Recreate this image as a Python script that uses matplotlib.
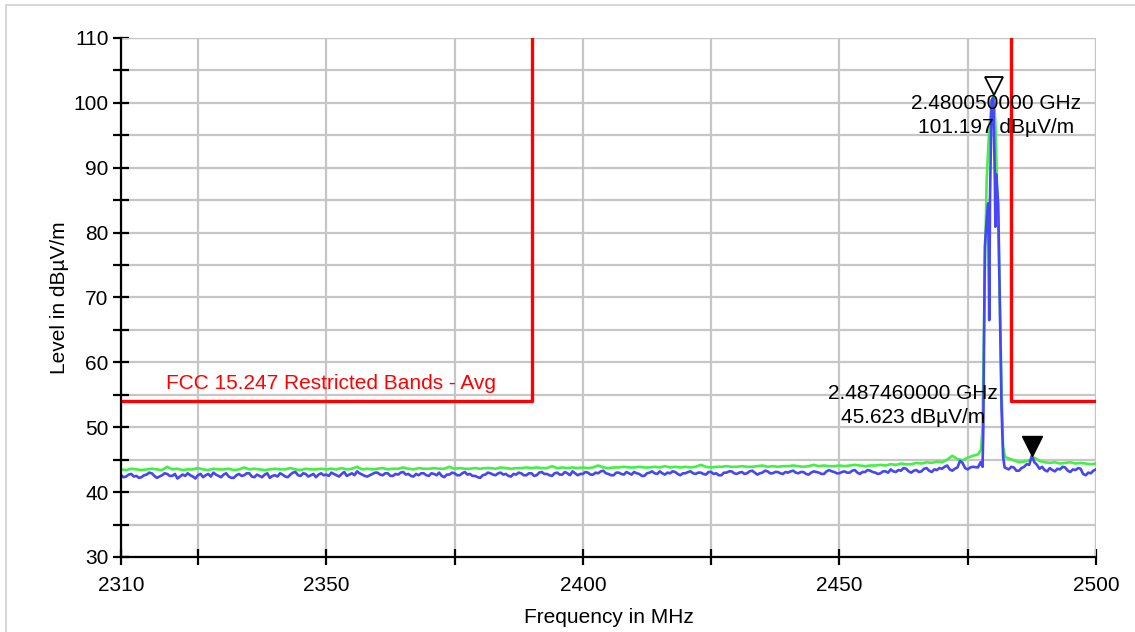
#!/usr/bin/env python3
# -*- coding: utf-8 -*-
"""
Radiated emission scan 2310-2500 MHz, restricted band limit (FCC 15.247 avg)
"""

import numpy as np
import matplotlib
matplotlib.use('Agg')
import matplotlib.pyplot as plt
from matplotlib.patches import Rectangle
from matplotlib.transforms import offset_copy

plt.rcParams['font.family'] = ['Liberation Sans', 'DejaVu Sans']

# --- data: green trace noise floor, 1 MHz steps 2310..2476 ---
freq_green_low = np.arange(2310, 2477)
green_low = [
    43.5, 43.4, 43.6, 43.5, 43.4, 43.5, 43.6, 43.5, 43.4, 43.9,
    43.5, 43.6, 43.4, 43.5, 43.5, 43.7, 43.5, 43.4, 43.6, 43.5,
    43.5, 43.6, 43.4, 43.5, 43.8, 43.5, 43.6, 43.5, 43.4, 43.5,
    43.6, 43.5, 43.5, 43.7, 43.5, 43.4, 43.6, 43.5, 43.5, 43.6,
    43.5, 43.6, 43.5, 43.7, 43.5, 43.6, 43.9, 43.5, 43.6, 43.5,
    43.6, 43.7, 43.5, 43.6, 43.6, 43.8, 43.6, 43.5, 43.7, 43.6,
    43.6, 43.7, 43.6, 43.6, 43.9, 43.6, 43.7, 43.6, 43.6, 43.7,
    43.6, 43.7, 43.7, 43.6, 43.8, 43.7, 43.6, 43.7, 43.7, 43.8,
    43.7, 43.8, 43.7, 43.7, 44.0, 43.7, 43.8, 43.7, 43.8, 43.7,
    43.8, 43.7, 43.8, 44.1, 43.8, 43.7, 43.8, 43.8, 43.9, 43.8,
    43.8, 43.9, 43.8, 43.8, 43.9, 43.8, 44.0, 43.8, 43.9, 43.8,
    43.9, 43.8, 43.9, 44.2, 43.9, 43.8, 43.9, 43.9, 44.0, 43.9,
    43.9, 44.0, 43.9, 43.9, 44.0, 44.1, 43.9, 44.0, 43.9, 44.0,
    44.0, 44.1, 44.0, 43.9, 44.0, 44.2, 44.0, 44.1, 44.0, 44.0,
    44.1, 44.0, 44.1, 44.2, 44.1, 44.0, 44.1, 44.1, 44.2, 44.1,
    44.3, 44.2, 44.4, 44.3, 44.3, 44.5, 44.4, 44.6, 44.5, 44.7,
    44.6, 45.0, 45.6, 45.1, 44.9, 45.3, 45.6,
]

# --- data: blue trace noise floor, 0.5 MHz steps 2310..2476 ---
freq_blue_low = np.arange(2310, 2476.01, 0.5)
blue_low = [
    42.6, 42.3, 42.4, 42.7, 42.8, 42.4, 42.5, 42.2, 42.3, 42.6, 42.7, 43.0, 42.9, 42.5, 42.2, 42.4, 42.6, 42.9, 42.8, 42.5,
    42.5, 42.8, 42.1, 42.4, 42.7, 42.5, 42.9, 42.6, 42.4, 42.1, 42.6, 42.8, 42.3, 42.6, 42.8, 42.4, 43.0, 42.7, 42.5, 42.3,
    42.7, 42.9, 42.4, 42.2, 42.2, 42.6, 42.8, 42.5, 42.6, 42.9, 42.9, 42.4, 42.3, 42.7, 42.5, 42.3, 42.7, 42.9, 42.2, 42.5,
    42.6, 42.4, 42.9, 42.7, 42.4, 42.3, 42.7, 43.0, 43.1, 42.6, 42.5, 42.9, 42.8, 42.4, 42.6, 42.8, 42.3, 42.7, 42.9, 42.6,
    42.7, 42.5, 43.0, 42.8, 42.6, 42.4, 42.8, 43.1, 42.5, 42.7, 42.9, 42.6, 43.2, 42.9, 42.7, 42.5, 42.4, 42.6, 42.8, 43.0,
    43.0, 42.7, 42.6, 42.9, 42.9, 42.5, 42.5, 42.8, 42.7, 43.0, 43.1, 42.7, 42.8, 42.5, 42.4, 42.8, 42.6, 42.9, 42.9, 42.6,
    42.5, 42.9, 42.8, 42.6, 43.0, 42.5, 42.3, 42.7, 42.7, 43.0, 42.9, 42.6, 42.6, 42.9, 43.1, 42.7, 42.8, 42.5, 42.5, 42.3,
    42.2, 42.6, 42.7, 43.0, 42.9, 42.7, 42.6, 42.9, 43.0, 42.7, 42.8, 42.5, 42.4, 42.8, 42.7, 43.0, 42.9, 42.6, 42.6, 42.9,
    42.9, 42.5, 42.6, 43.0, 43.1, 42.8, 42.8, 42.6, 42.5, 42.9, 43.0, 42.7, 42.7, 43.1, 42.9, 42.6, 43.2, 42.9, 42.6, 42.8,
    42.8, 43.1, 43.0, 42.7, 42.7, 43.0, 42.9, 43.2, 43.3, 42.9, 42.8, 42.6, 42.6, 43.0, 43.0, 42.8, 42.7, 43.1, 42.9, 42.7,
    43.1, 42.9, 42.8, 42.5, 42.5, 42.9, 43.0, 43.2, 42.9, 42.8, 43.2, 42.9, 42.7, 43.0, 42.9, 43.2, 43.1, 42.8, 42.6, 42.9,
    42.9, 43.1, 43.2, 42.9, 42.8, 43.0, 43.0, 42.8, 42.7, 43.1, 43.1, 42.8, 42.9, 42.6, 42.6, 43.0, 43.0, 43.2, 43.2, 42.9,
    42.8, 43.0, 43.1, 42.8, 42.9, 43.2, 43.3, 43.0, 42.7, 42.9, 43.0, 43.3, 43.2, 42.9, 42.9, 43.1, 43.1, 42.9, 42.8, 43.1,
    43.0, 43.2, 43.3, 43.0, 42.9, 43.1, 43.1, 42.8, 42.7, 43.0, 43.2, 43.1, 43.0, 42.8, 42.8, 43.2, 43.4, 43.2, 43.1, 42.9,
    42.9, 43.1, 43.2, 43.0, 43.0, 43.3, 43.4, 43.0, 42.8, 43.1, 43.1, 43.4, 43.3, 43.1, 43.0, 42.8, 42.9, 43.2, 43.2, 43.0,
    43.5, 43.2, 43.1, 43.4, 43.3, 43.7, 43.6, 43.2, 43.0, 43.3, 43.4, 43.1, 43.2, 43.6, 43.7, 43.3, 43.1, 43.5, 43.4, 43.7,
    43.6, 43.9, 44.1, 43.5, 43.3, 43.6, 43.8, 44.8, 44.5, 43.7, 43.5, 43.8, 43.9,
]

# --- data: carrier at 2480 MHz ---
freq_peak_green = [2477.0, 2477.6, 2477.9, 2478.3, 2478.7, 2479.2, 2479.7, 2480.05,
                   2480.4, 2480.7, 2481.0, 2481.3, 2481.6, 2481.9, 2482.3]
green_peak = [45.8, 46.5, 50.0, 72.0, 88.0, 96.0, 100.3, 101.2,
              97.0, 88.0, 80.0, 67.6, 56.0, 47.0, 45.4]
freq_peak_blue = [2477.0, 2477.5, 2477.9, 2478.05, 2478.35, 2478.7, 2479.0, 2479.2,
                  2479.35, 2479.66, 2480.0, 2480.3, 2480.4, 2480.55, 2480.95,
                  2481.3, 2481.6, 2481.9, 2482.2]
blue_peak = [43.8, 44.6, 43.9, 50.0, 77.8, 82.0, 84.5, 66.5,
             85.0, 100.4, 100.8, 88.0, 80.9, 89.0, 84.5,
             68.0, 53.0, 45.5, 43.8]

# --- data: above the band edge ---
freq_green_high = np.arange(2483, 2501)
green_high = [45.2, 44.9, 44.6, 44.7, 44.9, 45.3, 44.8, 44.6, 44.5,
              44.6, 44.4, 44.5, 44.6, 44.4, 44.5, 44.4, 44.3, 44.4]
freq_blue_high = np.arange(2483, 2500.01, 0.5)
blue_high = [43.5, 43.9, 43.8, 43.3, 43.3, 43.7, 43.9, 44.3, 44.2, 45.6,
             44.6, 44.2, 43.6, 43.9, 43.4, 43.2, 43.7, 43.4, 43.2, 43.6,
             43.5, 43.9, 43.8, 43.3, 43.1, 43.5, 43.4, 43.7, 43.6, 42.8,
             42.6, 43.0, 42.9, 43.3, 43.5]

# restricted band limit (avg), edges 2390 / 2483.5 MHz
limit_freq = [2310, 2390, 2390, np.nan, 2483.5, 2483.5, 2500]
limit_level = [54, 54, 115, np.nan, 115, 54, 54]
limit_label = 'FCC 15.247 Restricted Bands - Avg'

# markers
marker1_freq, marker1_level = 2480.05, 101.197
marker2_freq, marker2_level = 2487.46, 45.623

x_major = [2310, 2350, 2400, 2450, 2500]
x_minor = [2325, 2375, 2425, 2475]
y_major = [30, 40, 50, 60, 70, 80, 90, 100, 110]
y_minor = [35, 45, 55, 65, 75, 85, 95, 105]

GREEN = '#44f044'
BLUE = '#4646f5'
RED = '#ff0000'
GRID = '#c6c6c6'
FS = 15


def draw():
    fig = plt.figure(figsize=(11.35, 6.32), dpi=100)
    ax = fig.add_axes([0.1066, 0.1187, 0.8590, 0.8212])

    # light frame round the whole plot area
    fig.patches.append(Rectangle((0.0055, -0.05), 1.2, 1.042, transform=fig.transFigure,
                                 fill=False, edgecolor='#cfcfcf', linewidth=1.2))

    ax.set_xlim(2310, 2500)
    ax.set_ylim(30, 110)

    ax.set_xticks(x_major)
    ax.set_xticks(x_minor, minor=True)
    ax.set_yticks(y_major)
    ax.set_yticks(y_minor, minor=True)
    ax.grid(True, which='both', color=GRID, linewidth=1.6)
    ax.set_axisbelow(True)

    for side in ('top', 'right'):
        ax.spines[side].set_visible(False)
    for side in ('left', 'bottom'):
        ax.spines[side].set_linewidth(1.6)
        ax.spines[side].set_zorder(5)

    ax.tick_params(which='both', direction='inout', length=12, width=1.6, color='black',
                   labelsize=FS)
    ax.tick_params(axis='y', which='major', pad=3)
    ax.tick_params(axis='x', which='major', pad=8)

    # top/right grid edge lines (110 dB, 2500 MHz)
    ax.axhline(110, color=GRID, linewidth=1.6, zorder=1)
    ax.axvline(2500, color=GRID, linewidth=1.6, zorder=1)

    ax.set_xlabel('Frequency in MHz', fontsize=FS, labelpad=9)
    ax.set_ylabel('Level in dBµV/m', fontsize=FS, labelpad=3)

    # traces
    fg = np.concatenate([freq_green_low, freq_peak_green, freq_green_high])
    lg = np.concatenate([green_low, green_peak, green_high])
    fb = np.concatenate([freq_blue_low, freq_peak_blue, freq_blue_high])
    lb = np.concatenate([blue_low, blue_peak, blue_high])
    ax.plot(fg, lg, color=GREEN, linewidth=1.9, zorder=3)
    ax.plot(fb, lb, color=BLUE, linewidth=1.9, zorder=4)

    # limit line
    ax.plot(limit_freq, limit_level, color=RED, linewidth=2.4, zorder=3, clip_on=True)
    ax.text(2318.8, 56.8, limit_label, color=RED, fontsize=FS, ha='left', va='center', zorder=6)

    # marker 1 (open triangle, tip on the peak)
    tr1 = offset_copy(ax.transData, fig=fig, x=0, y=6.5, units='points')
    ax.plot([marker1_freq], [marker1_level], marker='v', markersize=13, color='black',
            markerfacecolor='white', markeredgewidth=1.3, transform=tr1, zorder=7,
            clip_on=False)
    ax.text(2480.5, 98.05, f'{marker1_freq / 1000:.9f} GHz\n{marker1_level:.3f} dBµV/m',
            fontsize=FS, ha='center', va='center', linespacing=1.35, zorder=8)

    # marker 2 (filled triangle above the trace)
    tr2 = offset_copy(ax.transData, fig=fig, x=0, y=7, units='points')
    ax.plot([marker2_freq], [marker2_level], marker='v', markersize=14, color='black',
            transform=tr2, zorder=7)
    ax.text(2464.3, 53.35, f'{marker2_freq / 1000:.9f} GHz\n{marker2_level:.3f} dBµV/m',
            fontsize=FS, ha='center', va='center', linespacing=1.35, zorder=8)

    fig.savefig('out.png', dpi=100, facecolor='white')
    plt.close(fig)


if __name__ == '__main__':
    draw()
